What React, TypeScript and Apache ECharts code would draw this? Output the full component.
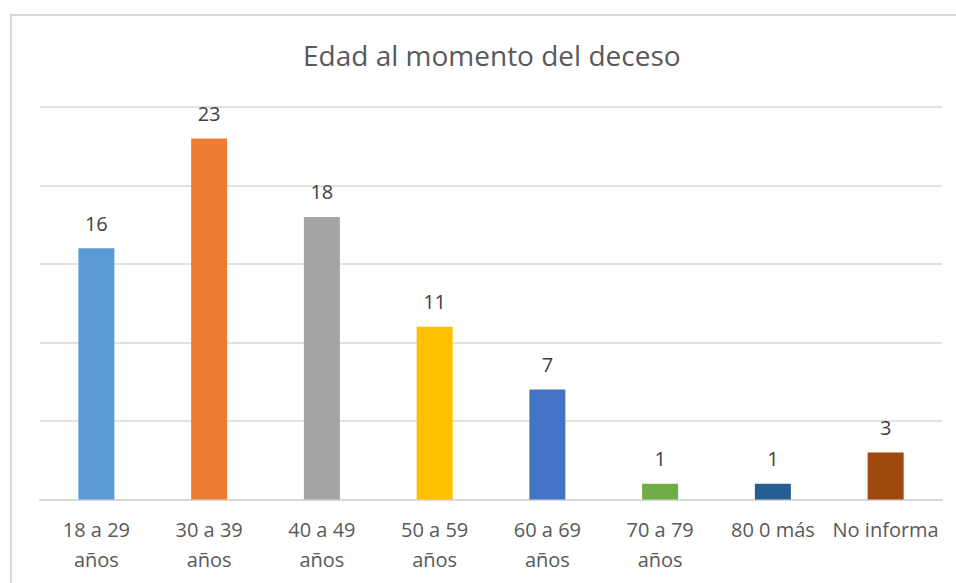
import React, { useEffect, useRef } from "react";
import * as echarts from "echarts";

const categories = [
  "18 a 29\naños",
  "30 a 39\naños",
  "40 a 49\naños",
  "50 a 59\naños",
  "60 a 69\naños",
  "70 a 79\naños",
  "80 0 más",
  "No informa",
];
const values = [16, 23, 18, 11, 7, 1, 1, 3];
const colors = ["#5B9BD5", "#ED7D31", "#A5A5A5", "#FFC000", "#4472C4", "#70AD47", "#255E91", "#9E480E"];
const title = "Edad al momento del deceso";

export default function App() {
  const ref = useRef<HTMLDivElement>(null);
  useEffect(() => {
    document.body.style.margin = "0";
    const chart = echarts.init(ref.current!, null, { renderer: "svg" });
    chart.setOption({
      animation: false,
      backgroundColor: "#ffffff",
      textStyle: { fontFamily: "Open Sans" },
      title: {
        text: title,
        left: 298,
        top: 36,
        textStyle: { fontFamily: "Open Sans", fontSize: 28, fontWeight: "normal", color: "#595959" },
      },
      graphic: [
        {
          type: "rect",
          shape: { x: 11, y: 15, width: 980, height: 620 },
          style: { fill: "none", stroke: "#d9d9d9", lineWidth: 2 },
          silent: true,
        },
      ],
      grid: { left: 40, right: 14, top: 107, bottom: 83.5 },
      xAxis: {
        type: "category",
        data: categories,
        axisLine: { lineStyle: { color: "#d9d9d9", width: 2 } },
        axisTick: { show: false },
        axisLabel: {
          color: "#595959",
          fontSize: 20,
          lineHeight: 30,
          margin: 15,
          interval: 0,
          fontFamily: "Open Sans",
        },
      },
      yAxis: {
        type: "value",
        min: 0,
        max: 25,
        interval: 5,
        axisLabel: { show: false },
        axisLine: { show: false },
        axisTick: { show: false },
        splitLine: { lineStyle: { color: "#d9d9d9", width: 1.5 } },
      },
      series: [
        {
          type: "bar",
          barWidth: 36,
          data: values.map((v, i) => ({ value: v, itemStyle: { color: colors[i] } })),
          label: {
            show: true,
            position: "top",
            distance: 15,
            color: "#404040",
            fontSize: 20,
            fontFamily: "Open Sans",
          },
        },
      ],
    });
    return () => chart.dispose();
  }, []);
  return <div ref={ref} style={{ width: 956, height: 583 }} />;
}
